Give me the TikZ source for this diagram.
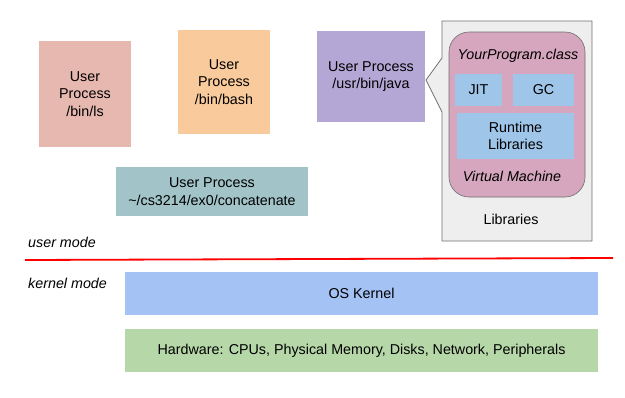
\documentclass[tikz,border=0pt]{standalone}
\usepackage{fontspec}
\setmainfont{Liberation Sans}
\begin{document}
\begin{tikzpicture}[x=1pt,y=-1pt,
  every node/.style={font=\fontsize{14.3}{17.5}\selectfont, align=center, inner sep=0pt},
  proc/.style={draw=none, fill=#1},
  lbl/.style={font=\fontsize{14.3}{17.5}\selectfont\itshape, anchor=west}]
\definecolor{lsC}{HTML}{E6B8AF}
\definecolor{bashC}{HTML}{F9CB9C}
\definecolor{javaC}{HTML}{B4A7D6}
\definecolor{catC}{HTML}{A2C4C9}
\definecolor{libC}{HTML}{EEEEEE}
\definecolor{vmC}{HTML}{D5A6BD}
\definecolor{partC}{HTML}{9FC5E8}
\definecolor{osC}{HTML}{A4C2F4}
\definecolor{hwC}{HTML}{B6D7A8}
\definecolor{edgeC}{HTML}{6F6F6F}
\useasboundingbox (0,0) rectangle (625,397);

% user processes
\node[proc=lsC, minimum width=92pt, minimum height=106pt] (ls) at (85,94) {User\\Process\\/bin/ls};
\node[proc=bashC, minimum width=92pt, minimum height=104pt] (bash) at (224,82) {User\\Process\\/bin/bash};
\node[proc=javaC, minimum width=108pt, minimum height=91pt] (java) at (371,76.5) {User Process\\/usr/bin/java};
\node[proc=catC, minimum width=192pt, minimum height=49pt] (cat) at (212,191.5) {User Process\\\textasciitilde/cs3214/ex0/concatenate};

% libraries callout pointing at the java process
\coordinate (tip) at (426,80);
\draw[fill=libC, draw=edgeC, line width=0.8pt]
  (442,21) -- (592,21) -- (592,241) -- (442,241) -- (442,112) -- (tip) -- (442,58) -- cycle;
\node (libs) at (511,219) {Libraries};

% virtual machine
\node[draw=edgeC, line width=0.6pt, fill=vmC, rounded corners=20pt, minimum width=136pt, minimum height=165pt] (vm) at (517,114.5) {};
\node[font=\fontsize{14.3}{17.5}\selectfont\itshape] (cls) at (518,56) {YourProgram.class};
\node[proc=partC, minimum width=47pt, minimum height=32pt] (jit) at (478.5,90) {JIT};
\node[proc=partC, minimum width=61pt, minimum height=32pt] (gc) at (543.5,90) {GC};
\node[proc=partC, minimum width=117pt, minimum height=46pt] (rt) at (515.5,136) {Runtime\\Libraries};
\node[font=\fontsize{14.3}{17.5}\selectfont\itshape] (vmname) at (512,176) {Virtual Machine};

% mode boundary
\node[lbl] (umode) at (28,242) {user mode};
\node[lbl] (kmode) at (28,283) {kernel mode};
\coordinate (redL) at (25,260);
\coordinate (redR) at (613,258);
\draw[red, line width=1.8pt] (redL) -- (redR);

% kernel and hardware
\node[proc=osC, minimum width=473pt, minimum height=43pt] (os) at (361.5,293.5) {OS Kernel};
\node[proc=hwC, minimum width=473pt, minimum height=43pt] (hw) at (361.5,350.5) {Hardware: CPUs, Physical Memory, Disks, Network, Peripherals};
\end{tikzpicture}
\end{document}
